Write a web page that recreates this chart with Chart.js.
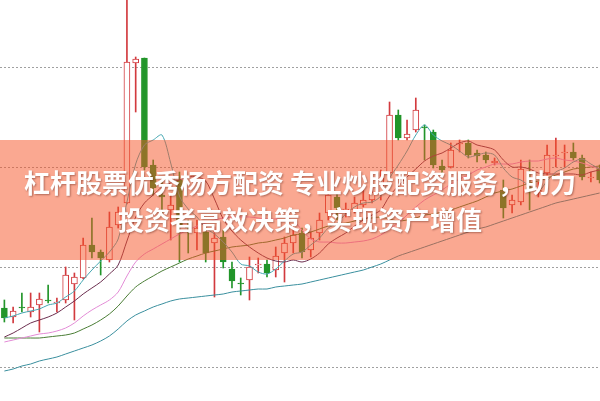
<!DOCTYPE html>
<html>
<head>
<meta charset="utf-8">
<script src="https://cdn.jsdelivr.net/npm/chart.js@4.4.1/dist/chart.umd.min.js"></script>
<style>
  html, body { margin: 0; padding: 0; background: #fff; overflow: hidden; }
  #wrap { position: relative; width: 600px; height: 401px; overflow: hidden; }
  #kline { position: absolute; left: 0; top: 0; }
  #banner {
    position: absolute; left: 0; top: 140px; width: 600px; height: 120px;
    background: rgba(245, 84, 39, 0.51);
    display: flex; flex-direction: column; justify-content: center; align-items: center;
    color: #fff; font-family: "Noto Sans CJK SC", sans-serif; font-weight: 700;
    font-size: 26px; line-height: 37px; white-space: nowrap;
    text-shadow: 1px 1px 2px rgba(90, 30, 20, 0.45);
  }
</style>
</head>
<body>
<div id="wrap">
  <canvas id="kline" width="604" height="401"></canvas>
  <div id="banner">
    <div>杠杆股票优秀杨方配资 专业炒股配资服务，助力</div>
    <div>投资者高效决策，实现资产增值</div>
  </div>
</div>
<script>
const opens = [
  10.59, 10.50, 10.60, 10.55, 10.62, 10.67, 10.64, 10.67, 10.83, 10.89,
  11.22, 11.15, 11.07, 11.42, 11.64, 13.04, 13.09, 12.02, 11.72, 11.57,
  11.87, 11.40, 11.34, 11.35, 11.24, 11.30, 10.98, 10.84, 10.87, 11.02,
  11.03, 10.97, 11.14, 11.24, 11.34, 11.17, 11.34, 11.54, 11.70, 11.57,
  11.57, 11.62, 11.67, 11.74, 11.94, 12.52, 12.29, 12.37, 12.40, 12.35,
  12.01, 12.00, 12.23, 12.24, 12.14, 12.12, 12.04, 11.77, 11.62, 11.65,
  11.80, 11.74, 11.94, 12.11, 12.14, 12.15, 12.09, 11.89, 11.99,
];
const closes = [
  10.49, 10.56, 10.59, 10.60, 10.68, 10.66, 10.65, 10.92, 10.90, 11.22,
  11.15, 11.09, 11.40, 11.55, 13.05, 13.08, 12.00, 11.79, 11.70, 11.62,
  11.42, 11.39, 11.39, 11.14, 11.29, 11.05, 10.86, 10.83, 11.00, 11.03,
  10.94, 11.11, 11.24, 11.32, 11.15, 11.29, 11.47, 11.72, 11.59, 11.58,
  11.64, 11.67, 11.75, 11.89, 12.52, 12.29, 12.33, 12.57, 12.39, 12.02,
  11.97, 12.17, 12.24, 12.12, 12.11, 12.07, 12.06, 11.59, 11.67, 11.98,
  11.77, 11.77, 12.12, 12.12, 12.15, 12.09, 11.90, 11.90, 11.87,
];
const highs = [
  10.67, 10.60, 10.74, 10.74, 10.74, 10.82, 10.69, 11.00, 10.94, 11.29,
  11.49, 11.17, 11.55, 11.60, 13.87, 13.10, 13.09, 12.07, 11.87, 11.72,
  11.95, 11.47, 11.47, 11.39, 11.40, 11.37, 11.05, 10.89, 11.10, 11.09,
  11.07, 11.20, 11.30, 11.42, 11.39, 11.35, 11.54, 11.75, 11.74, 11.64,
  11.70, 11.77, 11.79, 11.97, 12.65, 12.57, 12.47, 12.69, 12.42, 12.37,
  12.07, 12.24, 12.27, 12.27, 12.17, 12.15, 12.09, 11.87, 11.72, 12.07,
  12.07, 11.85, 12.22, 12.29, 12.22, 12.24, 12.12, 11.95, 12.02,
];
const lows = [
  10.45, 10.44, 10.55, 10.50, 10.35, 10.64, 10.55, 10.64, 10.47, 10.88,
  11.09, 10.92, 11.05, 11.39, 11.63, 12.55, 11.97, 11.72, 11.52, 11.27,
  11.05, 11.14, 11.17, 11.05, 10.70, 10.99, 10.79, 10.72, 10.67, 10.94,
  10.90, 10.90, 10.85, 11.14, 11.09, 11.10, 11.27, 11.47, 11.47, 11.50,
  11.54, 11.60, 11.64, 11.67, 11.93, 12.27, 12.27, 12.35, 12.07, 11.99,
  11.92, 11.99, 12.15, 12.09, 12.05, 12.04, 12.02, 11.49, 11.54, 11.62,
  11.57, 11.70, 11.92, 12.00, 12.00, 12.07, 11.87, 11.85, 11.84,
];
const ma5 = [
  10.49, 10.51, 10.54, 10.56, 10.58, 10.62, 10.64, 10.70, 10.76, 10.87,
  10.97, 11.06, 11.15, 11.28, 11.65, 12.03, 12.22, 12.27, 12.32, 12.04,
  11.71, 11.58, 11.50, 11.39, 11.33, 11.25, 11.15, 11.03, 11.01, 10.95,
  10.93, 10.98, 11.06, 11.13, 11.15, 11.22, 11.29, 11.39, 11.44, 11.53,
  11.60, 11.64, 11.65, 11.71, 11.89, 12.02, 12.16, 12.32, 12.42, 12.32,
  12.26, 12.22, 12.16, 12.10, 12.12, 12.14, 12.12, 11.99, 11.90, 11.87,
  11.81, 11.76, 11.86, 11.95, 11.99, 12.05, 12.08, 12.03, 11.98,
];
const ma10 = [
  10.30, 10.34, 10.39, 10.44, 10.47, 10.50, 10.54, 10.60, 10.66, 10.73,
  10.79, 10.85, 10.93, 11.02, 11.26, 11.50, 11.64, 11.72, 11.80, 11.84,
  11.87, 11.90, 11.90, 11.86, 11.68, 11.48, 11.36, 11.27, 11.20, 11.14,
  11.09, 11.06, 11.05, 11.07, 11.05, 11.08, 11.14, 11.23, 11.29, 11.34,
  11.41, 11.47, 11.52, 11.57, 11.71, 11.81, 11.90, 11.98, 12.06, 12.11,
  12.14, 12.19, 12.24, 12.26, 12.22, 12.20, 12.17, 12.07, 12.00, 12.00,
  11.98, 11.94, 11.93, 11.93, 11.93, 11.93, 11.92, 11.95, 11.97,
];
const ma20 = [
  10.25, 10.27, 10.29, 10.31, 10.33, 10.34, 10.36, 10.39, 10.44, 10.51,
  10.57, 10.62, 10.67, 10.75, 10.91, 11.05, 11.13, 11.18, 11.23, 11.28,
  11.33, 11.37, 11.41, 11.44, 11.47, 11.49, 11.50, 11.50, 11.50, 11.49,
  11.48, 11.48, 11.47, 11.46, 11.37, 11.28, 11.25, 11.25, 11.24, 11.24,
  11.25, 11.26, 11.28, 11.32, 11.38, 11.44, 11.52, 11.60, 11.67, 11.72,
  11.77, 11.83, 11.88, 11.92, 11.97, 12.00, 12.03, 12.03, 12.03, 12.05,
  12.06, 12.06, 12.08, 12.09, 12.07, 12.06, 12.04, 12.01, 11.98,
];
const ma30 = [
  10.29, 10.29, 10.29, 10.29, 10.29, 10.30, 10.31, 10.32, 10.34, 10.38,
  10.42, 10.47, 10.53, 10.61, 10.71, 10.80, 10.86, 10.91, 10.96, 11.00,
  11.04, 11.08, 11.11, 11.14, 11.16, 11.18, 11.20, 11.21, 11.22, 11.24,
  11.25, 11.27, 11.29, 11.32, 11.33, 11.35, 11.38, 11.41, 11.43, 11.44,
  11.46, 11.48, 11.49, 11.50, 11.48, 11.46, 11.47, 11.49, 11.52, 11.53,
  11.55, 11.57, 11.60, 11.63, 11.66, 11.70, 11.74, 11.76, 11.78, 11.81,
  11.84, 11.86, 11.89, 11.92, 11.95, 11.98, 11.99, 12.00, 12.01,
];
const ma60 = [
  9.96, 9.98, 10.01, 10.03, 10.06, 10.08, 10.10, 10.13, 10.16, 10.19,
  10.22, 10.26, 10.31, 10.38, 10.46, 10.52, 10.56, 10.60, 10.63, 10.66,
  10.68, 10.69, 10.70, 10.71, 10.72, 10.73, 10.75, 10.76, 10.77, 10.78,
  10.78, 10.80, 10.81, 10.82, 10.83, 10.85, 10.87, 10.89, 10.91, 10.93,
  10.95, 10.97, 11.00, 11.03, 11.07, 11.11, 11.14, 11.17, 11.20, 11.23,
  11.26, 11.29, 11.32, 11.35, 11.38, 11.40, 11.43, 11.46, 11.49, 11.52,
  11.55, 11.58, 11.61, 11.64, 11.66, 11.68, 11.70, 11.72, 11.74,
];
const days = opens.map((_, i) => `D${i + 1}`);

const upColor = "#d23a3e";
const downColor = "#22952a";
const isUp = closes.map((c, i) => c >= opens[i]);
const candleColor = isUp.map((u) => (u ? upColor : downColor));

function maLine(label, data, color) {
  return {
    type: "line",
    label,
    data,
    borderColor: color,
    borderWidth: 1,
    pointRadius: 0,
    tension: 0.3,
    fill: false,
    order: 0,
  };
}

new Chart(document.getElementById("kline"), {
  type: "bar",
  data: {
    labels: days,
    datasets: [
      maLine("MA5", ma5, "#45a7b2"),
      maLine("MA10", ma10, "#6b2d4e"),
      maLine("MA20", ma20, "#e38bd6"),
      maLine("MA30", ma30, "#4a7d35"),
      maLine("MA60", ma60, "#3a8f9e"),
      {
        label: "body",
        data: opens.map((o, i) => [o, closes[i]]),
        backgroundColor: isUp.map((u) => (u ? "#ffffff" : downColor)),
        borderColor: candleColor,
        borderWidth: 1,
        borderSkipped: false,
        barThickness: 6,
        grouped: false,
        order: 1,
      },
      {
        label: "wick",
        data: lows.map((l, i) => [l, highs[i]]),
        backgroundColor: candleColor,
        barThickness: 1,
        grouped: false,
        order: 2,
      },
    ],
  },
  options: {
    responsive: false,
    animation: false,
    layout: { padding: 0 },
    plugins: { legend: { display: false }, tooltip: { enabled: false } },
    scales: {
      x: { display: false, offset: true },
      y: {
        min: 9.66,
        max: 13.67,
        afterFit: (s) => { s.width = 0; },
        ticks: { display: false, stepSize: 1, includeBounds: false },
        grid: { color: "#a0a0a0", drawTicks: false },
        border: { display: false, dash: [2, 2] },
      },
    },
  },
});
</script>
</body>
</html>
